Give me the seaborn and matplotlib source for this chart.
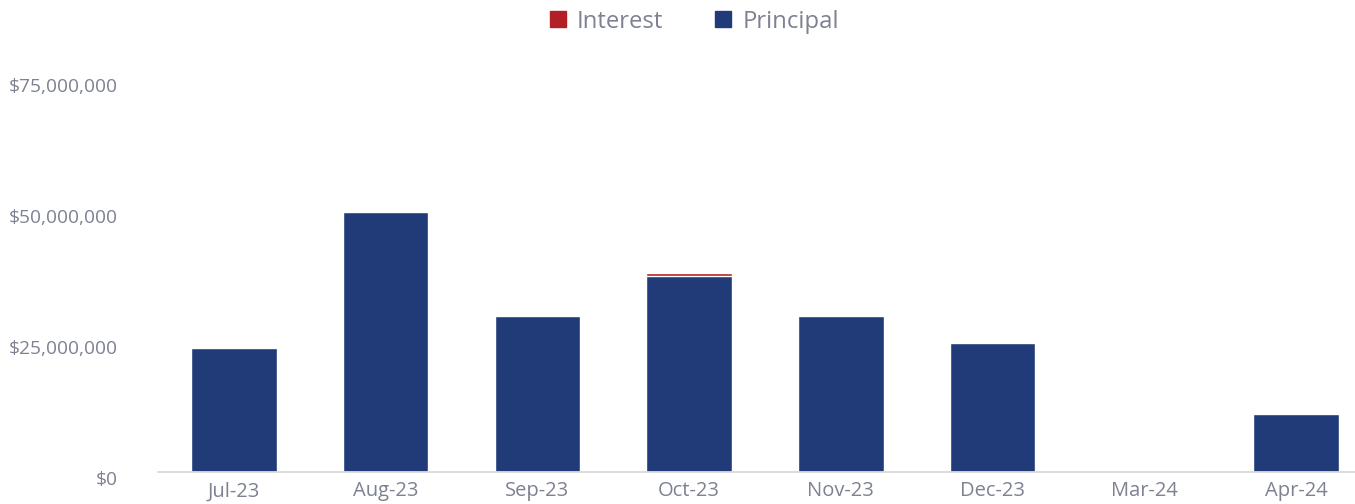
import matplotlib
matplotlib.use('Agg')
import matplotlib.pyplot as plt
import matplotlib.transforms as mtransforms
from matplotlib.lines import Line2D
import seaborn as sns
import pandas as pd

# Data
months = ['Jul-23', 'Aug-23', 'Sep-23', 'Oct-23', 'Nov-23', 'Dec-23', 'Mar-24', 'Apr-24']
principal = [23550000, 49600000, 29700000, 37350000, 29800000, 24600000, 0, 10950000]
interest = [0, 0, 0, 650000, 0, 0, 0, 0]
y_ticks = [0, 25000000, 50000000, 75000000]

navy = '#213A78'
red = '#B21F24'
gray_text = '#7D8191'

df = pd.DataFrame({'month': months, 'principal': principal, 'interest': interest})
df['total'] = df['principal'] + df['interest']

sns.set_style('white')
plt.rcParams['font.family'] = ['Open Sans', 'DejaVu Sans']

fig = plt.figure(figsize=(13.55, 5.04), dpi=100)
ax = fig.add_axes([158 / 1355, 32.3 / 504, (1372 - 158) / 1355, (471.7 - 78.7) / 504])

# stacked: total in red first, principal drawn on top
sns.barplot(data=df, x='month', y='total', order=months, color=red, width=0.565,
            saturation=1, ax=ax)
sns.barplot(data=df, x='month', y='principal', order=months, color=navy, width=0.565,
            saturation=1, ax=ax)

ax.set_xlim(-0.5, len(months) - 0.5)
ax.set_ylim(0, 75000000)
ax.set_yticks(y_ticks)
ax.set_yticklabels(['${:,.0f}'.format(v) for v in y_ticks])
ax.set_xlabel('')
ax.set_ylabel('')

for s in ['top', 'right', 'left']:
    ax.spines[s].set_visible(False)
ax.spines['bottom'].set_color('#D9D9D9')
ax.spines['bottom'].set_linewidth(1.3)

ax.tick_params(axis='both', length=0, colors=gray_text)
ax.tick_params(axis='y', pad=29, labelsize=13.8)
ax.tick_params(axis='x', pad=7, labelsize=14.5)

# y labels in the original sit slightly below their value
offset = mtransforms.ScaledTranslation(0, -0.06, fig.dpi_scale_trans)
for lbl in ax.get_yticklabels():
    lbl.set_transform(lbl.get_transform() + offset)

handles = [
    Line2D([], [], marker='s', linestyle='', color=red, markersize=11.5),
    Line2D([], [], marker='s', linestyle='', color=navy, markersize=11.5),
]
fig.legend(handles, ['Interest', 'Principal'], loc='center', bbox_to_anchor=(0.511, 0.957),
           ncol=2, frameon=False, fontsize=17.2, labelcolor=gray_text,
           handletextpad=0.3, columnspacing=2.0, handlelength=1.0)

fig.savefig('out.png', dpi=100)
